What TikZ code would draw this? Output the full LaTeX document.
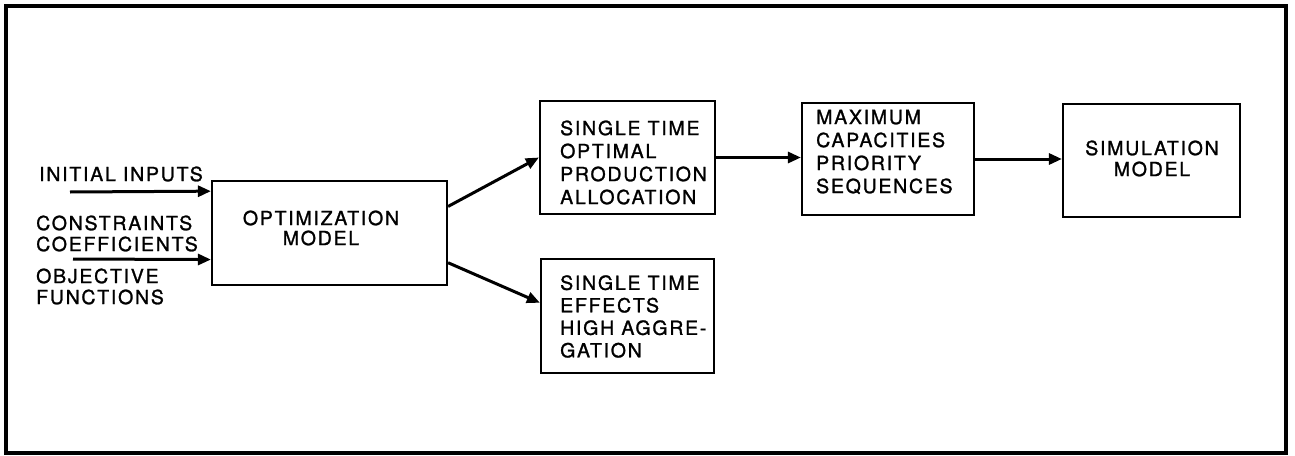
\documentclass[tikz,border=0pt]{standalone}
\usepackage{fontspec}
\setmainfont{TeX Gyre Heros}[LetterSpace=9,FakeBold=1.3]
\usetikzlibrary{arrows.meta,calc}
\newcommand\capsize[1]{\fontsize{19.5pt}{#1pt}\selectfont}
\begin{document}
\begin{tikzpicture}[x=1pt,y=-1pt,
  box/.style={draw, line width=2.2pt, inner sep=0pt},
  lbl/.style={inner sep=0pt},
  flow/.style={line width=3pt},
  solidtip/.style={flow, -{Triangle[length=13pt,width=11pt]}}]
\useasboundingbox (0,0) rectangle (1295,455);

% outer frame
\draw[line width=3.2pt] (6,6) rectangle (1286,453);

% blocks
\node[box, minimum width=235pt, minimum height=104pt] (opt) at (329.5,233) {};
\node[box, minimum width=175pt, minimum height=113pt] (alloc) at (627.5,157.5) {};
\node[box, minimum width=173pt, minimum height=114pt] (effects) at (627.5,316) {};
\node[box, minimum width=172pt, minimum height=112pt] (cap) at (888,159) {};
\node[box, minimum width=177pt, minimum height=113pt] (sim) at (1151.5,160.5) {};

% block texts
\node[lbl, align=center, font=\capsize{20}] (optT) at (321,228) {OPTIMIZATION\\MODEL};
\node[lbl, align=left, anchor=west, font=\capsize{23}] (allocT) at (560,162.5)
  {SINGLE TIME\\OPTIMAL\\PRODUCTION\\ALLOCATION};
\node[lbl, align=left, anchor=west, font=\capsize{22.5}] (effectsT) at (560,316.5)
  {SINGLE TIME\\EFFECTS\\HIGH AGGRE-\\GATION};
\node[lbl, align=left, anchor=west, font=\capsize{23}] (capT) at (816,152)
  {MAXIMUM\\CAPACITIES\\PRIORITY\\SEQUENCES};
\node[lbl, align=center, font=\capsize{21}] (simT) at (1152,158.5) {SIMULATION\\MODEL};

% input labels
\node[lbl, anchor=west, font=\capsize{21}] (inInit) at (39,174) {INITIAL INPUTS};
\node[lbl, anchor=west, align=left, font=\capsize{21}] (inCons) at (36,233.5) {CONSTRAINTS\\COEFFICIENTS};
\node[lbl, anchor=west, align=left, font=\capsize{21}] (inObj) at (36,286.5) {OBJECTIVE\\FUNCTIONS};

% input arrow tails
\coordinate (initTail) at (70,192);
\coordinate (consTail) at (73,259);

% connectors
\draw[solidtip] (initTail) -- ($(opt.north west)!0.106!(opt.south west)$);
\draw[solidtip] (consTail) -- ($(opt.north west)!0.75!(opt.south west)$);
\draw[solidtip] ($(opt.north east)!0.25!(opt.south east)$) -- (alloc.west);
\draw[solidtip] ($(opt.north east)!0.78!(opt.south east)$) -- ($(effects.north west)!0.386!(effects.south west)$);
\draw[solidtip] (alloc.east) -- (alloc.east -| cap.west);
\draw[solidtip] (cap.east) -- (cap.east -| sim.west);
\end{tikzpicture}
\end{document}
